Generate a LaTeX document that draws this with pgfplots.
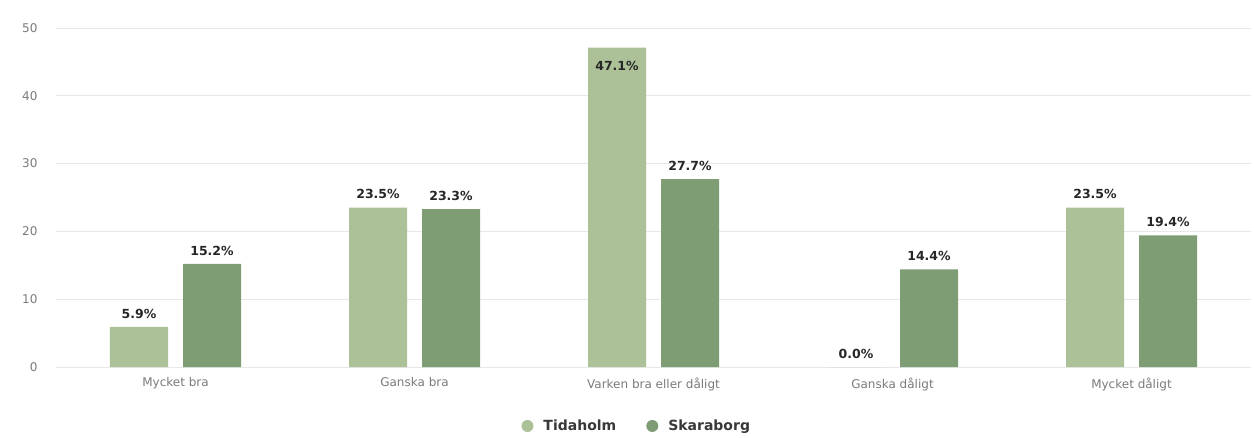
\documentclass[border=0pt]{standalone}
\usepackage{fontspec}
\setmainfont{DejaVu Sans}
\usepackage{pgfplots}
\usepackage{pgfplotstable}
\pgfplotsset{compat=1.18}
\definecolor{tida}{HTML}{ADC199}
\definecolor{skar}{HTML}{7E9D74}
\definecolor{gridc}{HTML}{E8E8E8}
\definecolor{tickc}{HTML}{7A7A7A}
\pgfplotstableread{
x y off
0 5.9 0
1 23.5 0
2 47.1 -32
3 0.0 0
4 23.5 0
}\tida
\pgfplotstableread{
x y off
0 15.2 0
1 23.3 0
2 27.7 0
3 14.4 0
4 19.4 0
}\skar
\begin{document}
\begin{tikzpicture}
\path (0,0) rectangle (1254pt,437pt);
\begin{axis}[
  at={(56pt,70pt)}, anchor=south west,
  scale only axis, width=1195pt, height=339pt,
  xmin=-0.5, xmax=4.5, ymin=0, ymax=50,
  ytick={0,10,20,30,40,50},
  xtick={0,1,2,3,4},
  xticklabels={Mycket bra,Ganska bra,Varken bra eller dåligt,Ganska dåligt,Mycket dåligt},
  axis line style={draw=none},
  major tick length=0pt,
  ymajorgrids, grid style={gridc, line width=1pt},
  /pgf/number format/assume math mode=true,
  tick label style={font=\fontsize{12}{14}\selectfont, text=tickc},
  yticklabel style={xshift=-15pt},
  xticklabel style={yshift=-7pt},
  ybar, bar width=58pt,
  clip=false,
  nodes near coords={\pgfmathprintnumber[fixed,fixed zerofill,precision=1]{\pgfplotspointmeta}\%},
  visualization depends on={\thisrow{off} \as \off},
  nodes near coords style={font=\bfseries\fontsize{12.5}{14}\selectfont, text=black!85, yshift=5pt+\off pt},
  legend style={at={(0.486,-0.174)}, anchor=center, draw=none, legend columns=2,
    font=\bfseries\fontsize{14}{16}\selectfont, text=black!78,
    /tikz/every odd column/.append style={column sep=8pt},
    /tikz/every even column/.append style={column sep=28pt}},
  legend image code/.code={\fill[#1, draw=none] (0.3em,0pt) circle (6pt);},
]
\addplot[fill=tida, draw=none, bar shift=-36.5pt] table[x=x,y=y] {\tida};
\addplot[fill=skar, draw=none, bar shift=36.5pt] table[x=x,y=y] {\skar};
\legend{Tidaholm,Skaraborg}
\end{axis}
\end{tikzpicture}
\end{document}
